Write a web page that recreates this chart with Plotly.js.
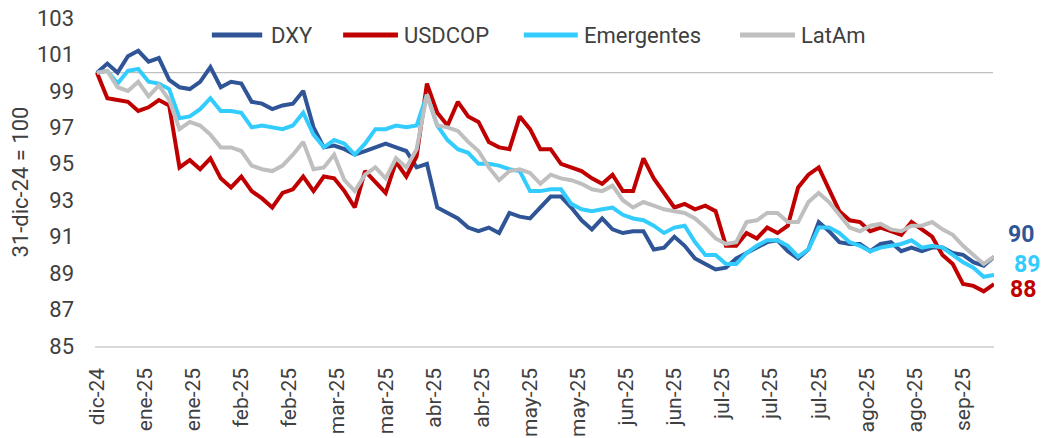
<!DOCTYPE html>
<html><head><meta charset="utf-8">
<script src="https://cdn.plot.ly/plotly-3.0.1.min.js"></script>
<style>html,body{margin:0;padding:0;background:#fff}#chart{width:1049px;height:438px}</style>
</head><body><div id="chart"></div>
<script>
const dates = ['2024-12-31','2025-01-03','2025-01-06','2025-01-09','2025-01-12','2025-01-15','2025-01-18','2025-01-21','2025-01-24','2025-01-27','2025-01-30',
'2025-02-02','2025-02-05','2025-02-08','2025-02-11','2025-02-14','2025-02-17','2025-02-20','2025-02-23','2025-02-26',
'2025-03-01','2025-03-04','2025-03-07','2025-03-10','2025-03-13','2025-03-16','2025-03-19','2025-03-22','2025-03-25','2025-03-28','2025-03-31',
'2025-04-03','2025-04-06','2025-04-09','2025-04-12','2025-04-15','2025-04-18','2025-04-21','2025-04-24','2025-04-27','2025-04-30',
'2025-05-03','2025-05-06','2025-05-09','2025-05-12','2025-05-15','2025-05-18','2025-05-21','2025-05-24','2025-05-27','2025-05-30',
'2025-06-02','2025-06-05','2025-06-08','2025-06-11','2025-06-14','2025-06-17','2025-06-20','2025-06-23','2025-06-26','2025-06-29',
'2025-07-02','2025-07-05','2025-07-08','2025-07-11','2025-07-14','2025-07-17','2025-07-20','2025-07-23','2025-07-26','2025-07-29',
'2025-08-01','2025-08-04','2025-08-07','2025-08-10','2025-08-13','2025-08-16','2025-08-19','2025-08-22','2025-08-25','2025-08-28','2025-08-31',
'2025-09-03','2025-09-06','2025-09-09','2025-09-12','2025-09-15','2025-09-18'];

const dxy = [100.0,100.5,100.0,100.9,101.2,100.6,100.8,99.6,99.2,99.1,99.5,
100.3,99.2,99.5,99.4,98.4,98.3,98.0,98.2,98.3,
99.0,97.0,95.9,96.0,95.8,95.5,95.7,95.9,96.1,95.9,95.7,
94.8,95.0,92.6,92.3,92.0,91.5,91.3,91.5,91.2,92.3,
92.1,92.0,92.6,93.2,93.2,92.6,91.9,91.4,92.0,91.4,
91.2,91.3,91.3,90.3,90.4,91.0,90.5,89.8,89.5,89.2,
89.3,89.8,90.1,90.4,90.7,90.8,90.2,89.8,90.3,91.8,
91.3,90.7,90.6,90.6,90.2,90.6,90.7,90.2,90.4,90.2,90.4,
90.4,90.1,90.0,89.6,89.4,89.9];

const usdcop = [100.0,98.6,98.5,98.4,97.9,98.1,98.5,98.2,94.8,95.2,94.7,
95.3,94.2,93.7,94.3,93.5,93.1,92.6,93.4,93.6,
94.3,93.5,94.3,94.2,93.5,92.6,94.6,94.0,93.4,95.1,94.3,
95.4,99.4,97.8,97.1,98.4,97.6,97.3,96.2,95.9,95.8,
97.6,96.9,95.8,95.8,95.0,94.8,94.6,94.2,93.9,94.4,
93.5,93.5,95.3,94.2,93.4,92.6,92.8,92.5,92.7,92.4,
90.5,90.5,91.2,90.9,91.5,91.2,91.6,93.7,94.4,94.8,
93.6,92.4,91.9,91.8,91.3,91.5,91.3,91.1,91.8,91.4,91.0,
90.0,89.5,88.4,88.3,88.0,88.4];

const emergentes = [100.0,100.1,99.4,100.1,100.2,99.5,99.4,99.1,97.5,97.6,98.0,
98.6,97.9,97.9,97.8,97.0,97.1,97.0,96.9,97.1,
97.8,96.6,95.9,96.3,96.1,95.5,96.1,96.9,96.9,97.1,97.0,
97.1,98.8,97.1,96.3,95.8,95.6,95.0,95.0,94.9,94.7,
94.6,93.5,93.5,93.6,93.6,92.8,92.5,92.4,92.5,92.6,
92.2,92.0,91.9,91.6,91.2,91.5,91.6,90.7,90.0,90.0,
89.5,89.5,90.1,90.5,90.8,90.8,90.5,89.9,90.3,91.5,
91.5,91.2,90.7,90.5,90.2,90.4,90.5,90.6,90.8,90.4,90.5,
90.4,90.0,89.6,89.3,88.8,88.9];

const latam = [100.0,100.1,99.2,99.0,99.5,98.7,99.3,98.5,96.9,97.3,97.1,
96.6,95.9,95.9,95.7,94.9,94.7,94.6,94.9,95.5,
96.2,94.7,94.8,95.5,94.1,93.5,94.4,94.8,94.2,95.3,94.8,
95.8,98.8,97.1,97.0,96.8,96.2,95.7,94.8,94.1,94.6,
94.7,94.5,93.9,94.4,94.2,94.1,93.9,93.6,93.5,93.8,
93.0,92.6,92.9,92.7,92.5,92.4,92.3,92.0,91.5,90.9,
90.6,90.7,91.8,91.9,92.3,92.3,91.8,91.8,92.9,93.4,
92.9,92.2,91.5,91.3,91.6,91.7,91.4,91.3,91.6,91.6,91.8,
91.4,91.1,90.5,90.0,89.5,89.9];

const seriesNames = ['DXY','USDCOP','Emergentes','LatAm'];
const seriesColors = ['#2F5597','#C00000','#33CCFF','#BFBFBF'];
const tickDates = ['2024-12-31','2025-01-14','2025-01-28','2025-02-11','2025-02-25','2025-03-11','2025-03-25','2025-04-08','2025-04-22','2025-05-06','2025-05-20','2025-06-03','2025-06-17','2025-07-01','2025-07-15','2025-07-29','2025-08-12','2025-08-26','2025-09-09'];
const tickLabels = ['dic-24','ene-25','ene-25','feb-25','feb-25','mar-25','mar-25','abr-25','abr-25','may-25','may-25','jun-25','jun-25','jul-25','jul-25','jul-25','ago-25','ago-25','sep-25'];
const endLabels = ['90','88','89'];
const yTitle = '31-dic-24 = 100';

const FONT = 'Roboto, "Open Sans", sans-serif';
const TXT = '#404040';
const allSeries = [dxy, usdcop, emergentes, latam];

const traces = allSeries.map((ys, i) => ({
  x: dates, y: ys, type: 'scatter', mode: 'lines', name: seriesNames[i],
  line: {color: seriesColors[i], width: 4}, hoverinfo: 'skip'
}));

// custom legend (line samples + text)
const legendPos = [[0.130,0.186,0.193],[0.276,0.337,0.342],[0.477,0.537,0.542],[0.7175,0.7786,0.783]];
const legY = 0.948;
const shapes = [
  {type:'line', xref:'paper', x0:0, x1:0.999, yref:'y', y0:100, y1:100, line:{color:'#BFBFBF', width:1.2}, layer:'below'}
];
const annotations = [];
legendPos.forEach((p, i) => {
  shapes.push({type:'line', xref:'paper', yref:'paper', x0:p[0], x1:p[1], y0:legY, y1:legY, line:{color:seriesColors[i], width:5}});
  annotations.push({xref:'paper', yref:'paper', x:p[2], y:legY, xanchor:'left', yanchor:'middle', showarrow:false, text:seriesNames[i], font:{family:FONT, size:22, color:TXT}});
});
// end-value labels
const endPos = [[1.030, 91.1, 0], [1.032, 88.1, 1], [1.037, 89.45, 2]];
endPos.forEach((p, k) => {
  annotations.push({xref:'paper', yref:'y', x:p[0], y:p[1], xanchor:'center', yanchor:'middle', showarrow:false,
    text:'<b>'+endLabels[k]+'</b>', font:{family:FONT, size:23, color:seriesColors[p[2]]}});
});

const layout = {
  width: 1049, height: 438,
  margin: {l: 95, r: 55, t: 18, b: 92},
  paper_bgcolor: '#fff', plot_bgcolor: '#fff',
  showlegend: false,
  font: {family: FONT, color: TXT},
  xaxis: {
    type: 'date', range: ['2024-12-30 10:00', '2025-09-18 00:00'],
    tickmode: 'array', tickvals: tickDates, ticktext: tickLabels,
    tickangle: -90, tickfont: {family: FONT, size: 21, color: TXT},
    showgrid: false, zeroline: false, showline: true, linecolor: '#D9D9D9', linewidth: 1.5,
    ticks: '', ticklabelstandoff: 12, fixedrange: true
  },
  yaxis: {
    range: [85, 103], tickmode: 'linear', tick0: 85, dtick: 2,
    tickfont: {family: FONT, size: 22, color: TXT},
    showgrid: false, zeroline: false, showline: false, ticks: '', ticklabelstandoff: 20,
    title: {text: yTitle, font: {family: FONT, size: 22, color: TXT}, standoff: 2},
    fixedrange: true
  },
  shapes: shapes, annotations: annotations
};

Plotly.newPlot('chart', traces, layout, {displayModeBar: false, staticPlot: true});
</script></body></html>
